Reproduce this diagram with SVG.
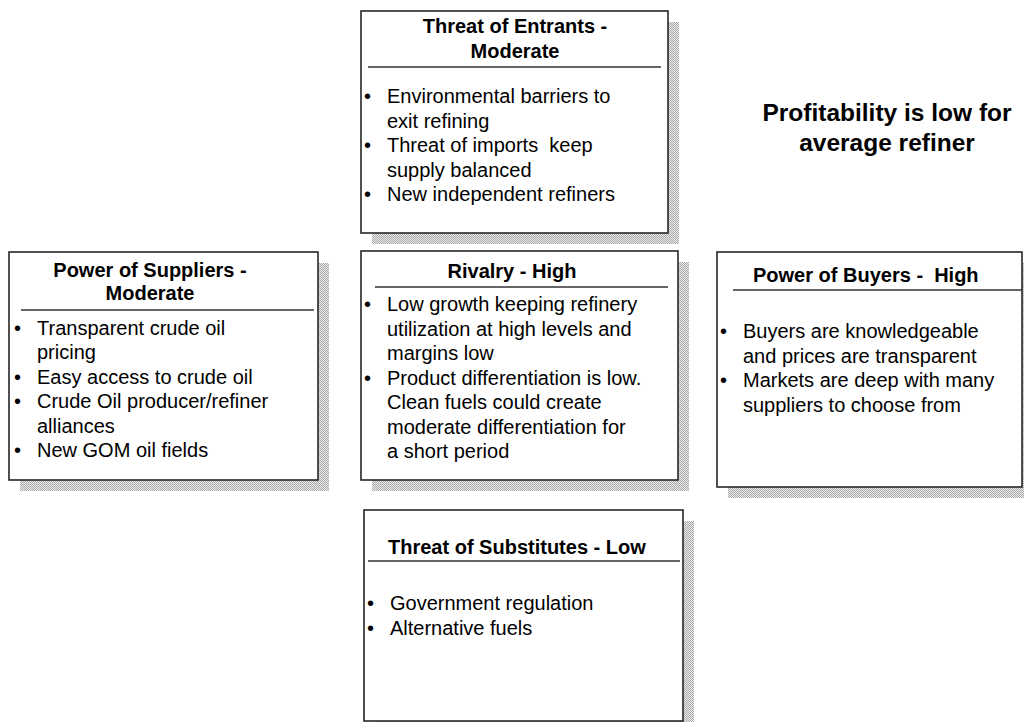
<svg xmlns="http://www.w3.org/2000/svg" width="1024" height="722" viewBox="0 0 1024 722">
<defs>
<pattern id="dither" width="2" height="2" patternUnits="userSpaceOnUse">
<rect width="2" height="2" fill="#ececec"/>
<rect width="1" height="1" fill="#a9a9a9"/>
<rect x="1" y="1" width="1" height="1" fill="#a9a9a9"/>
</pattern>
</defs>
<style>
.shadow{fill:url(#dither);stroke:none}
.box{fill:#ffffff;stroke:#262626;stroke-width:1.6}
.rule{stroke:#333333;stroke-width:1.5}
.title{font-family:"Liberation Sans",Arial,sans-serif;font-weight:bold;font-size:20px;fill:#000;white-space:pre}
.body{font-family:"Liberation Sans",Arial,sans-serif;font-size:20px;fill:#000;white-space:pre}
.big{font-family:"Liberation Sans",Arial,sans-serif;font-weight:bold;font-size:24.5px;fill:#000}
</style>
<rect width="1024" height="722" fill="#ffffff"/>
<g id="connectors"/>

<g id="entrants">
<rect class="shadow" x="372" y="22" width="307" height="222"/>
<rect class="box" x="361" y="11" width="307" height="222"/>
<text class="title" x="515" y="33" text-anchor="middle">Threat of Entrants -</text>
<text class="title" x="515" y="58" text-anchor="middle">Moderate</text>
<line class="rule" x1="368" y1="67" x2="661" y2="67"/>
<text class="body" x="364" y="103">•</text><text class="body" x="387" y="103">Environmental barriers to</text>
<text class="body" x="387" y="127.5">exit refining</text>
<text class="body" x="364" y="152">•</text><text class="body" x="387" y="152">Threat of imports  keep</text>
<text class="body" x="387" y="176.5">supply balanced</text>
<text class="body" x="364" y="201">•</text><text class="body" x="387" y="201">New independent refiners</text>
</g>

<g id="suppliers">
<rect class="shadow" x="20" y="263" width="309" height="228"/>
<rect class="box" x="9" y="252" width="309" height="228"/>
<text class="title" x="150" y="277" text-anchor="middle">Power of Suppliers -</text>
<text class="title" x="150" y="300" text-anchor="middle">Moderate</text>
<line class="rule" x1="21" y1="310" x2="314" y2="310"/>
<text class="body" x="14" y="334.5">•</text><text class="body" x="37" y="334.5">Transparent crude oil</text>
<text class="body" x="37" y="359">pricing</text>
<text class="body" x="14" y="383.5">•</text><text class="body" x="37" y="383.5">Easy access to crude oil</text>
<text class="body" x="14" y="408">•</text><text class="body" x="37" y="408">Crude Oil producer/refiner</text>
<text class="body" x="37" y="432.5">alliances</text>
<text class="body" x="14" y="457">•</text><text class="body" x="37" y="457">New GOM oil fields</text>
</g>

<g id="rivalry">
<rect class="shadow" x="372" y="262" width="317" height="229"/>
<rect class="box" x="361" y="251" width="317" height="229"/>
<text class="title" x="512" y="278" text-anchor="middle">Rivalry - High</text>
<line class="rule" x1="375" y1="287" x2="668" y2="287"/>
<text class="body" x="364" y="311">•</text><text class="body" x="387" y="311">Low growth keeping refinery</text>
<text class="body" x="387" y="335.5">utilization at high levels and</text>
<text class="body" x="387" y="360">margins low</text>
<text class="body" x="364" y="384.5">•</text><text class="body" x="387" y="384.5">Product differentiation is low.</text>
<text class="body" x="387" y="409">Clean fuels could create</text>
<text class="body" x="387" y="433.5">moderate differentiation for</text>
<text class="body" x="387" y="458">a short period</text>
</g>

<g id="buyers">
<rect class="shadow" x="728" y="263" width="305" height="235"/>
<rect class="box" x="717" y="252" width="305" height="235"/>
<text class="title" x="753" y="282">Power of Buyers -  High</text>
<line class="rule" x1="733" y1="290" x2="1022" y2="290"/>
<text class="body" x="720" y="338">•</text><text class="body" x="743" y="338">Buyers are knowledgeable</text>
<text class="body" x="743" y="362.5">and prices are transparent</text>
<text class="body" x="720" y="387">•</text><text class="body" x="743" y="387">Markets are deep with many</text>
<text class="body" x="743" y="411.5">suppliers to choose from</text>
</g>

<g id="substitutes">
<rect class="shadow" x="375" y="521" width="319" height="211"/>
<rect class="box" x="364" y="510" width="319" height="211"/>
<text class="title" x="388" y="554">Threat of Substitutes - Low</text>
<line class="rule" x1="368" y1="561" x2="680" y2="561"/>
<text class="body" x="367" y="610">•</text><text class="body" x="390" y="610">Government regulation</text>
<text class="body" x="367" y="635">•</text><text class="body" x="390" y="635">Alternative fuels</text>
</g>

<g id="profitability">
<text class="big" x="887" y="121" text-anchor="middle">Profitability is low for</text>
<text class="big" x="887" y="151" text-anchor="middle">average refiner</text>
</g>
</svg>
